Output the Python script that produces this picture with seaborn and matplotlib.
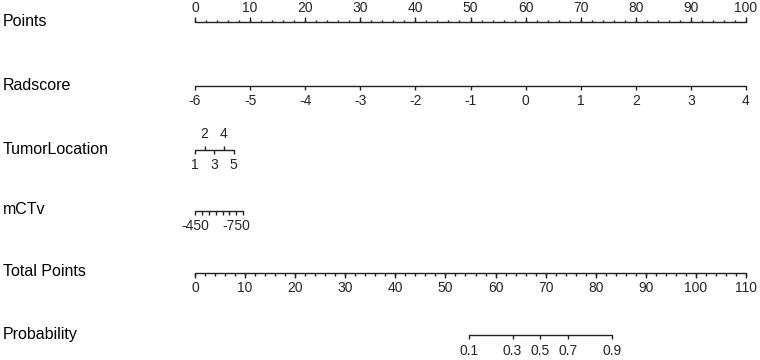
import numpy as np
import pandas as pd
import matplotlib
matplotlib.use("Agg")
import matplotlib.pyplot as plt
import seaborn as sns

# nomogram scales (positions in "points")
points_major = list(range(0, 101, 10))
points_minor = list(range(0, 101, 2))

radscore_vals = [-6, -5, -4, -3, -2, -1, 0, 1, 2, 3, 4]
radscore_pts = [0, 10, 20, 30, 40, 50, 60, 70, 80, 90, 100]

tumor_vals = [1, 2, 3, 4, 5]
tumor_pts = [0, 1.75, 3.5, 5.25, 7.0]

mctv_vals = [-450, -500, -550, -600, -650, -700, -750, -800]
mctv_pts = [0, 1.25, 2.5, 3.75, 5.0, 6.25, 7.5, 8.75]
mctv_labels = ["-450", "", "", "", "", "", "-750", ""]

total_major = list(range(0, 111, 10))
total_minor = list(range(0, 111, 2))

prob_vals = [0.1, 0.3, 0.5, 0.7, 0.9]
prob_total = [54.7, 63.4, 68.9, 74.5, 83.3]

row_names = ["Points", "Radscore", "TumorLocation", "mCTv", "Total Points", "Probability"]
row_y = [22, 86, 150, 211, 273, 335]

sns.set_theme(style="white")
plt.rcParams['font.family'] = ['Liberation Sans', 'DejaVu Sans']

fig = plt.figure(figsize=(7.6, 3.6), dpi=100)
ax = fig.add_axes([0, 0, 1, 1])
# 0 points at x=195 px, 100 points at x=746 px
ppx = 100 / 551
ax.set_xlim(-195 * ppx, (760 - 195) * ppx)
ax.set_ylim(360, 0)
ax.axis('off')

tot = lambda v: np.asarray(v, dtype=float) * 100 / 110
line_col = '#222222'
fs_lab = 11.5
fs_tick = 10

# baselines
segs = pd.DataFrame({
    'x': [0, 100, 0, 100, 0, 7.0, 0, 8.75, 0, 100,
          tot(prob_total[0]), tot(prob_total[-1])],
    'y': [row_y[0]] * 2 + [row_y[1]] * 2 + [row_y[2]] * 2 + [row_y[3]] * 2
         + [row_y[4]] * 2 + [row_y[5]] * 2,
    'row': [r for r in row_names for _ in range(2)],
})
sns.lineplot(data=segs, x='x', y='y', units='row', estimator=None,
             color=line_col, lw=1, sort=False, ax=ax, legend=False)

# row labels
for name, y in zip(row_names, row_y):
    ax.text(-192 * ppx, y - 1, name, ha='left', va='center', fontsize=fs_lab, color='black')

# Points (ticks up, labels above)
y = row_y[0]
ax.vlines(points_minor, y - 2.5, y, color=line_col, lw=1)
ax.vlines(points_major, y - 5, y, color=line_col, lw=1)
for v in points_major:
    ax.text(v, y - 14, str(v), ha='center', va='center', fontsize=fs_tick)

# Radscore
y = row_y[1]
ax.vlines(radscore_pts, y, y + 4, color=line_col, lw=1)
for v, p in zip(radscore_vals, radscore_pts):
    ax.text(p, y + 15, str(v), ha='center', va='center', fontsize=fs_tick)

# TumorLocation (alternating)
y = row_y[2]
for i, (v, p) in enumerate(zip(tumor_vals, tumor_pts)):
    if i % 2 == 1:
        ax.vlines(p, y - 4, y, color=line_col, lw=1)
        ax.text(p, y - 16, str(v), ha='center', va='center', fontsize=fs_tick)
    else:
        ax.vlines(p, y, y + 4, color=line_col, lw=1)
        ax.text(p, y + 15, str(v), ha='center', va='center', fontsize=fs_tick)

# mCTv
y = row_y[3]
ax.vlines(mctv_pts, y, y + 4, color=line_col, lw=1)
for lab, p in zip(mctv_labels, mctv_pts):
    if lab:
        ax.text(p, y + 15, lab, ha='center', va='center', fontsize=fs_tick)

# Total Points
y = row_y[4]
ax.vlines(tot(total_minor), y, y + 2.5, color=line_col, lw=1)
ax.vlines(tot(total_major), y, y + 5, color=line_col, lw=1)
for v in total_major:
    ax.text(tot(v), y + 15, str(v), ha='center', va='center', fontsize=fs_tick)

# Probability
y = row_y[5]
ax.vlines(tot(prob_total), y, y + 4, color=line_col, lw=1)
for v, p in zip(prob_vals, prob_total):
    ax.text(tot(p), y + 16, str(v), ha='center', va='center', fontsize=fs_tick)

fig.savefig("out.png", dpi=100, facecolor='white')
